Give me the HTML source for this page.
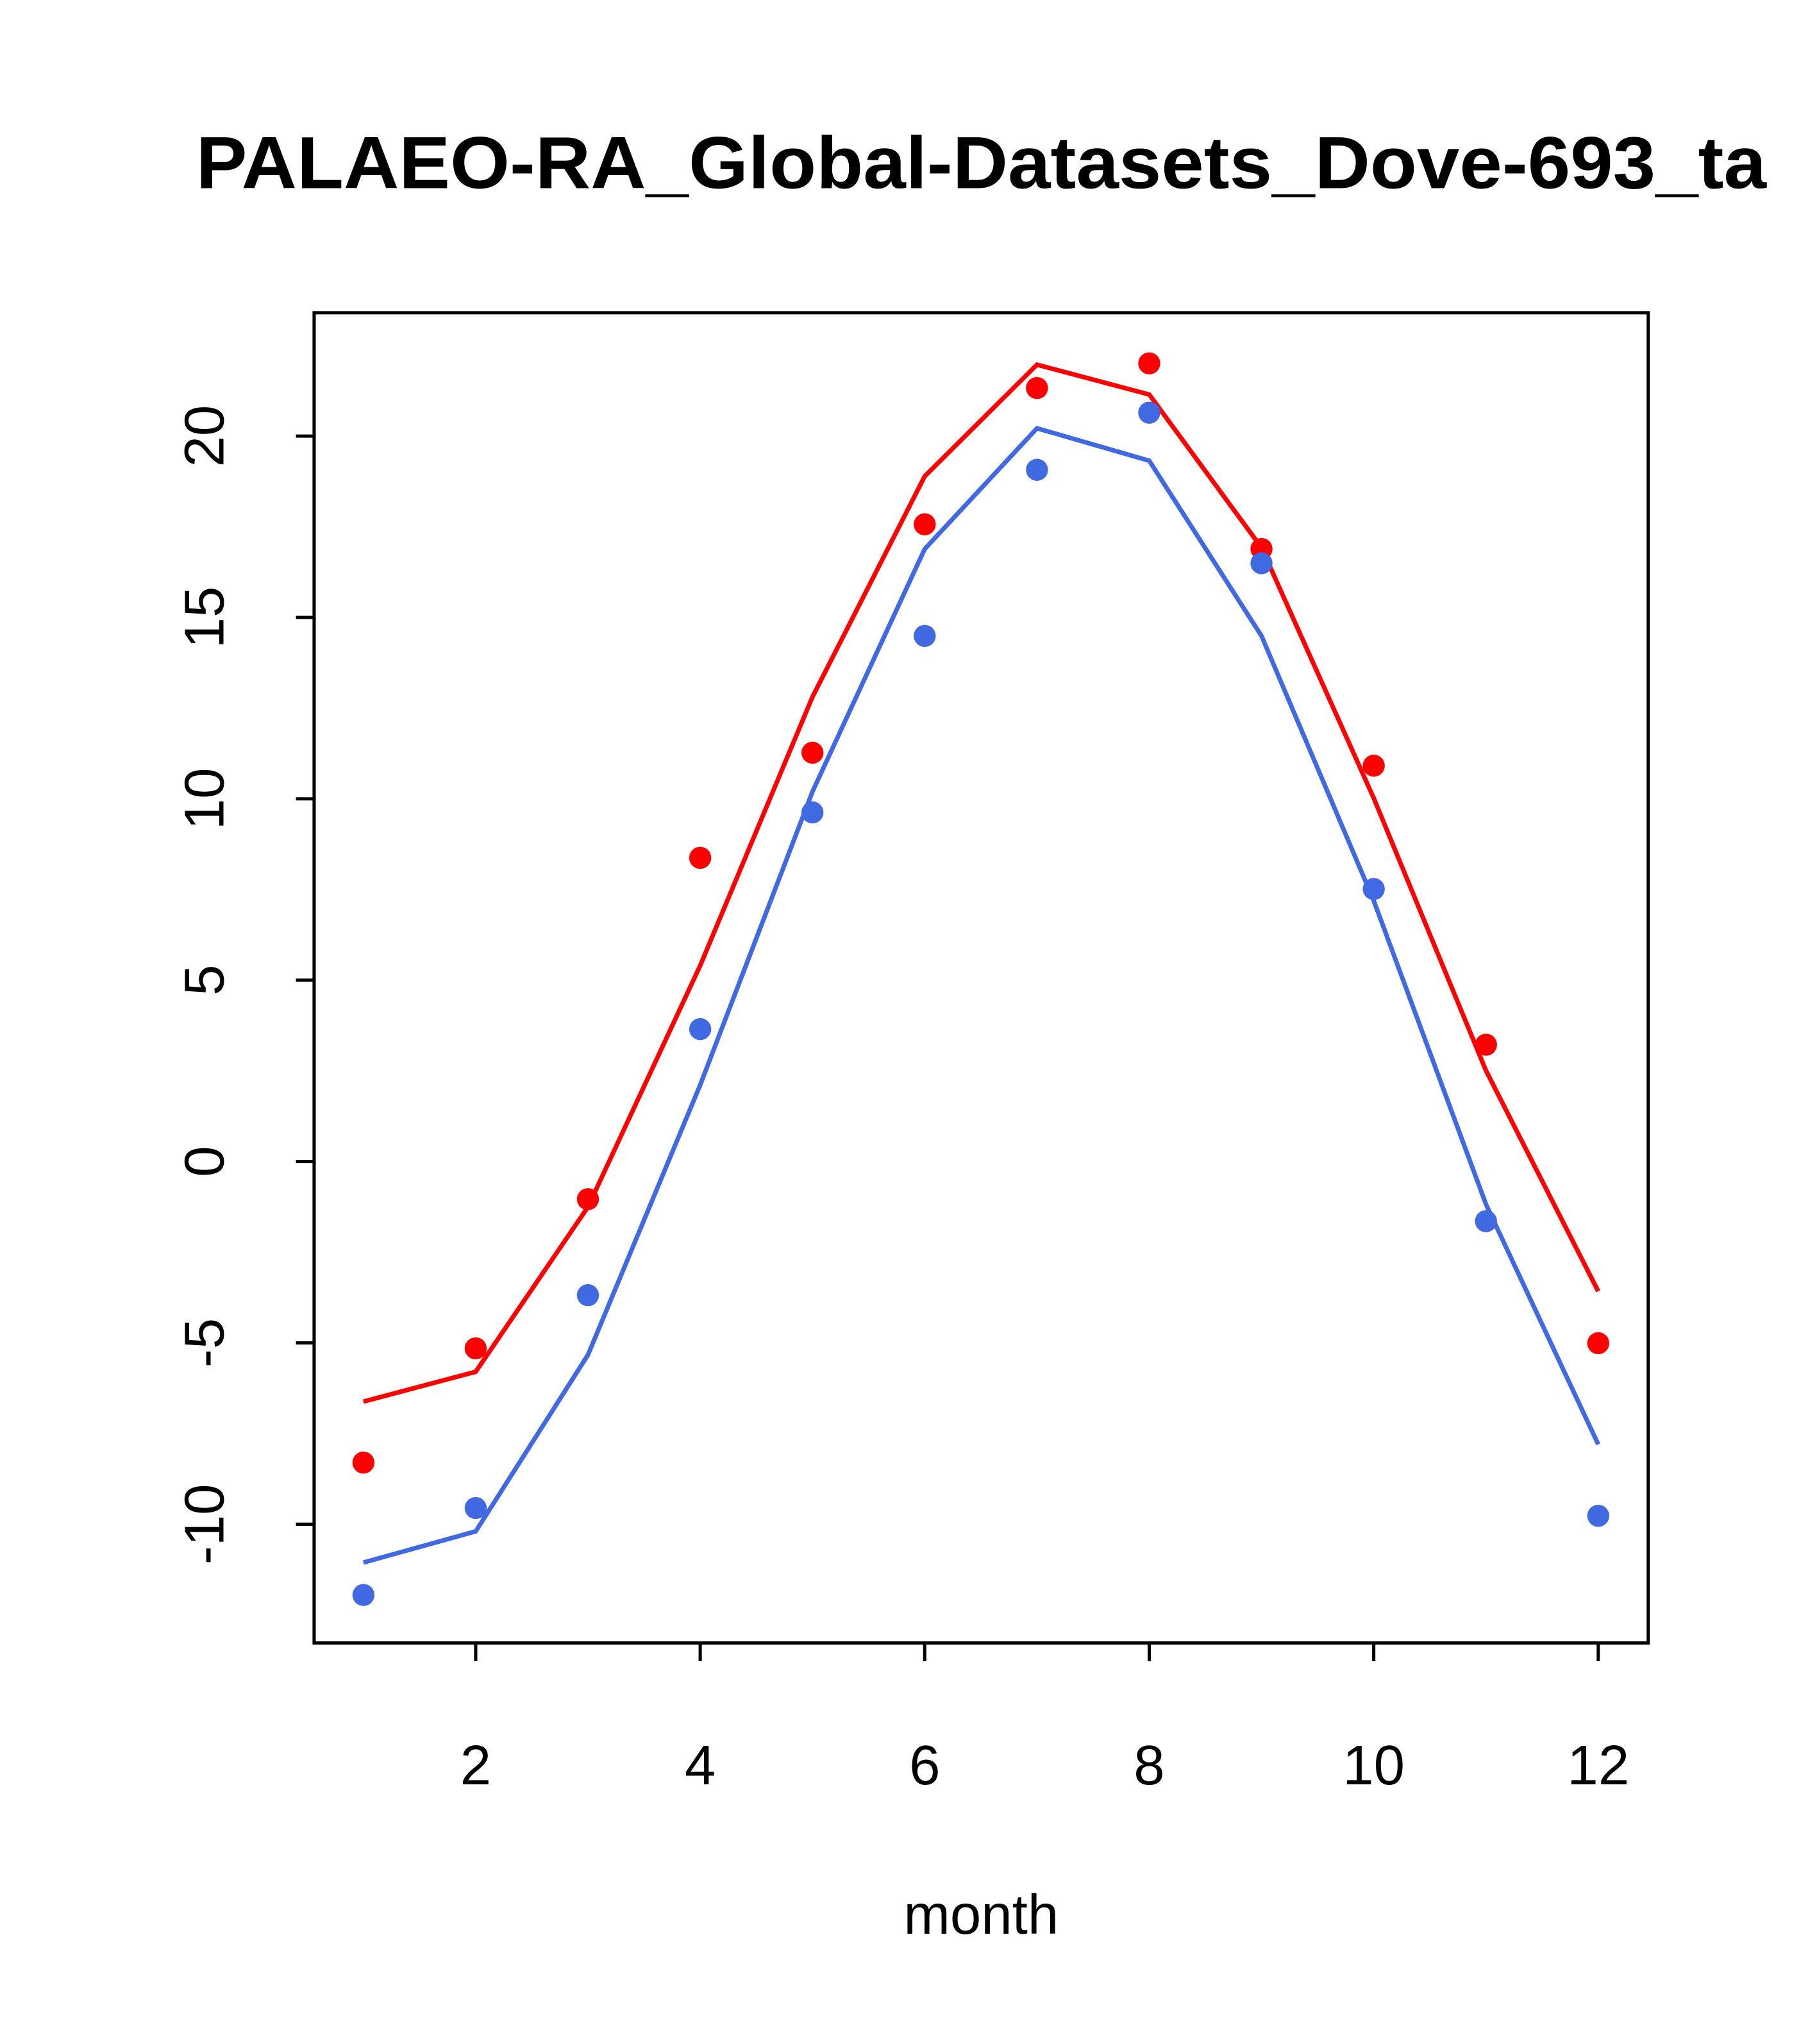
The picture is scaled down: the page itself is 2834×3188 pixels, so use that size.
<!DOCTYPE html>
<html><head><meta charset="utf-8"><style>html,body{margin:0;padding:0;background:#fff}svg{display:block}</style></head>
<body>
<svg width="2834" height="3188" viewBox="0 0 1400 1575" xmlns="http://www.w3.org/2000/svg" font-family="Liberation Sans, sans-serif">
<rect width="1400" height="1575" fill="#fff"/>
<text x="756" y="145" font-size="57" font-weight="bold" text-anchor="middle" textLength="1210" lengthAdjust="spacingAndGlyphs">PALAEO-RA_Global-Datasets_Dove-693_ta</text>
<rect x="242" y="241" width="1028" height="1025" fill="none" stroke="#000" stroke-width="2.5"/>
<g stroke="#000" stroke-width="2.5">
<line x1="366.5" y1="1266" x2="366.5" y2="1280"/><line x1="539.5" y1="1266" x2="539.5" y2="1280"/><line x1="712.5" y1="1266" x2="712.5" y2="1280"/><line x1="885.5" y1="1266" x2="885.5" y2="1280"/><line x1="1058.5" y1="1266" x2="1058.5" y2="1280"/><line x1="1231.5" y1="1266" x2="1231.5" y2="1280"/>
<line x1="228" y1="1174.5" x2="242" y2="1174.5"/><line x1="228" y1="1034.75" x2="242" y2="1034.75"/><line x1="228" y1="895" x2="242" y2="895"/><line x1="228" y1="755.25" x2="242" y2="755.25"/><line x1="228" y1="615.5" x2="242" y2="615.5"/><line x1="228" y1="475.75" x2="242" y2="475.75"/><line x1="228" y1="336" x2="242" y2="336"/>
</g>
<g font-size="43" text-anchor="middle">
<text x="366.5" y="1375">2</text><text x="539.5" y="1375">4</text><text x="712.5" y="1375">6</text><text x="885.5" y="1375">8</text><text x="1058.5" y="1375">10</text><text x="1231.5" y="1375">12</text>
<text transform="translate(172,1174.5) rotate(-90)">-10</text>
<text transform="translate(172,1034.75) rotate(-90)">-5</text>
<text transform="translate(172,895) rotate(-90)">0</text>
<text transform="translate(172,755.25) rotate(-90)">5</text>
<text transform="translate(172,615.5) rotate(-90)">10</text>
<text transform="translate(172,475.75) rotate(-90)">15</text>
<text transform="translate(172,336) rotate(-90)">20</text>
<text x="756" y="1490">month</text>
</g>
<polyline fill="none" stroke="#ff0000" stroke-width="3.5" points="280,1080 366.5,1057 453,930 539.5,744 626,537 712.5,367 799,281 885.5,304 972,422 1058.5,615 1145,825 1231.5,995"/>
<polyline fill="none" stroke="#4169e1" stroke-width="3.5" points="280,1204 366.5,1180 453,1044 539.5,836 626,610 712.5,423 799,330 885.5,355 972,490 1058.5,694 1145,928 1231.5,1113"/>
<g fill="#ff0000">
<circle cx="280" cy="1127" r="8.5"/><circle cx="366.5" cy="1039" r="8.5"/><circle cx="453" cy="924" r="8.5"/><circle cx="539.5" cy="661" r="8.5"/><circle cx="626" cy="580" r="8.5"/><circle cx="712.5" cy="404" r="8.5"/><circle cx="799" cy="299" r="8.5"/><circle cx="885.5" cy="280" r="8.5"/><circle cx="972" cy="423" r="8.5"/><circle cx="1058.5" cy="590" r="8.5"/><circle cx="1145" cy="805" r="8.5"/><circle cx="1231.5" cy="1035" r="8.5"/>
</g>
<g fill="#4169e1">
<circle cx="280" cy="1229" r="8.5"/><circle cx="366.5" cy="1162" r="8.5"/><circle cx="453" cy="998" r="8.5"/><circle cx="539.5" cy="793" r="8.5"/><circle cx="626" cy="626" r="8.5"/><circle cx="712.5" cy="490" r="8.5"/><circle cx="799" cy="362" r="8.5"/><circle cx="885.5" cy="318" r="8.5"/><circle cx="972" cy="434" r="8.5"/><circle cx="1058.5" cy="685" r="8.5"/><circle cx="1145" cy="941" r="8.5"/><circle cx="1231.5" cy="1168" r="8.5"/>
</g>
</svg>
</body></html>
